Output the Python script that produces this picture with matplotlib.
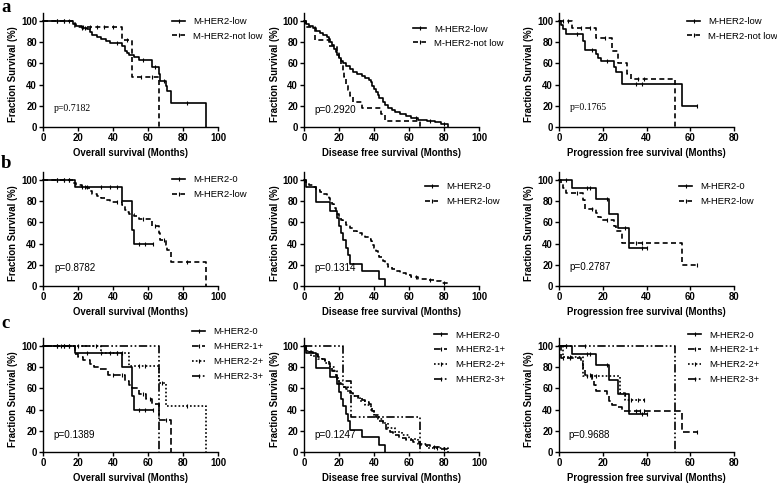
import numpy as np
import matplotlib
matplotlib.use('Agg')
import matplotlib.pyplot as plt
from matplotlib.lines import Line2D

plt.rcParams['font.family'] = 'Liberation Sans'

# ---- overall survival (months) ----
os_low_t = [17, 19, 22, 25, 27, 28, 31, 33, 36, 38, 45, 47, 48, 49, 52, 55, 62, 66, 67, 70, 71, 73, 93]
os_low_s = [97, 95, 93, 92, 90, 87, 85, 83, 81, 79, 76, 72, 70, 68, 66, 63, 57, 50, 43, 39, 34, 23, 0]
os_low_c = [8, 12, 15, 22, 24, 42, 57, 64, 69, 82]
os_notlow_t = [18, 45, 51, 66]
os_notlow_s = [94, 82, 47, 0]
os_notlow_c = [8, 12, 23, 27, 31, 35, 40, 48, 56, 62]
os_h0_t = [18, 45, 51, 52]
os_h0_s = [93, 80, 53, 40]
os_h0_c = [8, 12, 15, 25, 33, 38, 42, 55, 58, 63]
os_h1_t = [18, 20, 23, 27, 29, 32, 37, 47, 49, 51, 55, 59, 62, 66, 73]
os_h1_s = [92, 90, 87, 83, 80, 78, 73, 67, 63, 60, 55, 50, 45, 30, 0]
os_h1_c = [8, 12, 15, 40, 45, 57, 61, 70]
os_h2_t = [33, 49, 66, 70, 93]
os_h2_s = [93, 81, 65, 43, 0]
os_h2_c = [10, 20, 42, 45, 55, 58, 68, 82]
os_h3_t = [66]
os_h3_s = [0]
os_h3_c = [30]

# ---- disease free survival (months) ----
dfs_low_t = [1, 3, 5, 7, 9, 11, 13, 14, 15, 16, 17, 18, 19, 20, 21, 22, 24, 26, 28, 30, 33, 35, 37, 38, 39,
             40, 41, 42, 43, 45, 46, 48, 50, 52, 55, 58, 61, 65, 70, 75, 78, 82]
dfs_low_s = [97, 95, 93, 91, 89, 87, 85, 83, 80, 77, 74, 71, 68, 65, 62, 60, 58, 55, 52, 50, 48, 46, 44, 42, 39,
             36, 33, 30, 27, 24, 21, 18, 16, 14, 12, 10, 8.5, 7, 6, 4.5, 3, 0]
dfs_low_c = [64, 72, 80]
dfs_notlow_t = [1, 6, 14, 19, 20, 21, 22, 23, 24, 25, 26, 28, 33, 44, 46, 66]
dfs_notlow_s = [94, 82, 76, 71, 65, 59, 53, 47, 41, 35, 29, 24, 18, 12, 6, 0]
dfs_notlow_c = []
dfs_h0_t = [1, 7, 15, 19, 20, 21, 22, 24, 25, 26, 33, 43, 46]
dfs_h0_s = [93, 79, 71, 64, 57, 50, 43, 36, 29, 21, 14, 7, 0]
dfs_h0_c = []
dfs_h1_t = [1, 3, 5, 8, 10, 12, 14, 15, 16, 18, 19, 20, 22, 24, 26, 28, 31, 33, 35, 37, 38, 39, 40, 41,
            43, 45, 47, 49, 51, 54, 58, 62, 66, 72, 78, 82]
dfs_h1_s = [96, 94, 92, 90, 88, 86, 83, 80, 76, 72, 68, 64, 61, 59, 56, 53, 51, 49, 47, 45, 42, 39, 36, 33,
            29, 26, 22, 19, 16, 13, 11, 9, 7, 5, 3, 0]
dfs_h1_c = [74, 80]
dfs_h2_t = [1, 4, 8, 12, 15, 17, 19, 20, 22, 25, 28, 32, 35, 38, 40, 42, 45, 48, 52, 56, 60, 65, 70, 82]
dfs_h2_s = [95, 91, 88, 84, 80, 76, 70, 65, 61, 57, 53, 48, 44, 40, 35, 31, 27, 23, 19, 16, 12, 8, 4, 0]
dfs_h2_c = [76]
dfs_h3_t = [22, 27, 66]
dfs_h3_s = [67, 33, 0]
dfs_h3_c = []

# ---- progression free survival (months) ----
pfs_low_t = [1, 2, 3, 11, 12, 17, 18, 19, 25, 26, 29, 56]
pfs_low_s = [96, 92, 88, 81, 73, 69, 65, 62, 57, 52, 41, 20]
pfs_low_end = 63
pfs_low_c = [8, 15, 22, 35, 38, 63]
pfs_notlow_t = [6, 17, 24, 27, 31, 33, 53]
pfs_notlow_s = [93, 84, 72, 60, 50, 45, 0]
pfs_notlow_c = [2, 4, 10, 14, 21, 36, 39]
pfs_h0_t = [6, 17, 23, 27, 32]
pfs_h0_s = [92, 82, 68, 55, 36]
pfs_h0_end = 40
pfs_h0_c = [3, 13, 14, 22, 30, 38, 40]
pfs_h1_t = [1, 10, 11, 12, 15, 16, 17, 22, 23, 24, 27, 29, 56]
pfs_h1_s = [89, 84, 79, 73, 68, 63, 58, 53, 48, 44, 42, 39, 19]
pfs_h1_end = 63
pfs_h1_c = [2, 5, 14, 35, 37, 39, 63]
pfs_h2_t = [2, 11, 28, 30]
pfs_h2_s = [90, 72, 56, 49]
pfs_h2_end = 39
pfs_h2_c = [5, 13, 15, 17, 33, 36, 39]
pfs_h3_t = [53]
pfs_h3_s = [0]
pfs_h3_c = [3, 12]

p_values = [['p=0.7182', 'p=0.2920', 'p=0.1765'],
            ['p=0.8782', 'p=0.1314', 'p=0.2787'],
            ['p=0.1389', 'p=0.1247', 'p=0.9688']]
xlabels = ['Overall survival (Months)', 'Disease free survival (Months)', 'Progression free survival (Months)']
xmaxes = [100, 100, 80]

SOLID = '-'
DASH = (0, (3, 2))
D1 = (0, (4, 2))
DOT = (0, (1, 1.3))
DDOT = (0, (5, 1.5, 1, 1.5, 1, 1.5))


def curve(t, s, c, end=None, label='', ls=SOLID):
    return dict(t=t, s=s, c=c, end=end if end is not None else t[-1], label=label, ls=ls)


panels = [
    [[curve(os_low_t, os_low_s, os_low_c, label='M-HER2-low'),
      curve(os_notlow_t, os_notlow_s, os_notlow_c, label='M-HER2-not low', ls=DASH)],
     [curve(dfs_low_t, dfs_low_s, dfs_low_c, label='M-HER2-low'),
      curve(dfs_notlow_t, dfs_notlow_s, dfs_notlow_c, label='M-HER2-not low', ls=DASH)],
     [curve(pfs_low_t, pfs_low_s, pfs_low_c, pfs_low_end, label='M-HER2-low'),
      curve(pfs_notlow_t, pfs_notlow_s, pfs_notlow_c, label='M-HER2-not low', ls=DASH)]],
    [[curve(os_h0_t, os_h0_s, os_h0_c, 63, label='M-HER2-0'),
      curve(os_low_t, os_low_s, os_low_c, label='M-HER2-low', ls=DASH)],
     [curve(dfs_h0_t, dfs_h0_s, dfs_h0_c, label='M-HER2-0'),
      curve(dfs_low_t, dfs_low_s, dfs_low_c, label='M-HER2-low', ls=DASH)],
     [curve(pfs_h0_t, pfs_h0_s, pfs_h0_c, pfs_h0_end, label='M-HER2-0'),
      curve(pfs_low_t, pfs_low_s, pfs_low_c, pfs_low_end, label='M-HER2-low', ls=DASH)]],
    [[curve(os_h0_t, os_h0_s, os_h0_c, 63, label='M-HER2-0'),
      curve(os_h1_t, os_h1_s, os_h1_c, label='M-HER2-1+', ls=D1),
      curve(os_h2_t, os_h2_s, os_h2_c, label='M-HER2-2+', ls=DOT),
      curve(os_h3_t, os_h3_s, os_h3_c, label='M-HER2-3+', ls=DDOT)],
     [curve(dfs_h0_t, dfs_h0_s, dfs_h0_c, label='M-HER2-0'),
      curve(dfs_h1_t, dfs_h1_s, dfs_h1_c, label='M-HER2-1+', ls=D1),
      curve(dfs_h2_t, dfs_h2_s, dfs_h2_c, label='M-HER2-2+', ls=DOT),
      curve(dfs_h3_t, dfs_h3_s, dfs_h3_c, label='M-HER2-3+', ls=DDOT)],
     [curve(pfs_h0_t, pfs_h0_s, pfs_h0_c, pfs_h0_end, label='M-HER2-0'),
      curve(pfs_h1_t, pfs_h1_s, pfs_h1_c, pfs_h1_end, label='M-HER2-1+', ls=D1),
      curve(pfs_h2_t, pfs_h2_s, pfs_h2_c, pfs_h2_end, label='M-HER2-2+', ls=DOT),
      curve(pfs_h3_t, pfs_h3_s, pfs_h3_c, label='M-HER2-3+', ls=DDOT)]],
]

# layout in pixels (figure is 777x484)
FW, FH = 777, 484
col_x = [43, 304, 559]
row_y = [127, 286, 452]
AW, H100, YTOP = 175, 106, 108
leg_pos = [[(172, 23), (413, 30), (687, 23)],
           [(172, 181), (425, 188), (679, 188)],
           [(192, 333), (434, 336), (688, 336)]]
leg_space = [0.55, 0.6, 0.62]
pval_xy = [[(6, 17), (5.7, 16), (5, 18)],
           [(6.5, 17), (5.7, 17), (4.6, 18)],
           [(5.7, 16), (5.7, 16), (4.1, 16)]]
serif_p = {(0, 0), (0, 2)}

fig = plt.figure(figsize=(FW / 100, FH / 100), dpi=100)
for r in range(3):
    for c in range(3):
        x0, y0 = col_x[c], row_y[r]
        ax = fig.add_axes([x0 / FW, (FH - y0) / FH, AW / FW, H100 * YTOP / 100 / FH])
        for cv in panels[r][c]:
            t = np.asarray(cv['t'], float); s = np.asarray(cv['s'], float)
            xs = np.r_[0, t, cv['end']]; ys = np.r_[100, s, s[-1]]
            ax.plot(xs, ys, drawstyle='steps-post', color='k', lw=1.2, ls=cv['ls'], clip_on=False)
            if len(cv['c']):
                cx = np.asarray(cv['c'], float)
                cy = np.r_[100, s][np.searchsorted(t, cx, side='right')]
                ax.plot(cx, cy, ls='none', marker='|', ms=3, mew=0.8, color='k', clip_on=False)
        ax.set_xlim(0, xmaxes[c]); ax.set_ylim(0, YTOP)
        ax.set_xticks(np.arange(0, xmaxes[c] + 1, 20)); ax.set_yticks(np.arange(0, 101, 20))
        for sp in ('top', 'right'):
            ax.spines[sp].set_visible(False)
        for sp in ('left', 'bottom'):
            ax.spines[sp].set_linewidth(1.0)
        ax.tick_params(length=2.8, width=1.0, pad=1.5, labelsize=6.9)
        for lb in ax.get_xticklabels() + ax.get_yticklabels():
            lb.set_fontweight('bold')
        ax.set_xlabel(xlabels[c], fontsize=6.9, fontweight='bold')
        ax.set_ylabel('Fraction Survival (%)', fontsize=6.9, fontweight='bold')
        ax.xaxis.set_label_coords(0.5, -0.18)
        ax.yaxis.set_label_coords(-0.14, 0.463)
        fam = 'Liberation Serif' if (r, c) in serif_p else 'Liberation Sans'
        px, py = pval_xy[r][c]
        ax.text(px, py, p_values[r][c], fontsize=7.0 if fam.endswith('Serif') else 7.1,
                family=fam, va='center', ha='left')
        handles = [Line2D([], [], color='k', lw=1.2, ls=cv['ls'], marker='|', ms=3, mew=0.8)
                   for cv in panels[r][c]]
        lx, ly = leg_pos[r][c]
        ax.legend(handles, [cv['label'] for cv in panels[r][c]], loc='upper left',
                  bbox_to_anchor=(lx / FW, 1 - (ly - 5.5) / FH), bbox_transform=fig.transFigure,
                  frameon=False, fontsize=6.8, borderpad=0, borderaxespad=0, handlelength=1.4,
                  handletextpad=0.85, labelspacing=leg_space[r], numpoints=1)

for lab, y in zip('abc', [12, 168, 328]):
    fig.text(1 / FW, 1 - y / FH, lab, family='Liberation Serif', fontweight='bold', fontsize=13.5,
             va='baseline', ha='left')

fig.savefig('out.png', dpi=100)
